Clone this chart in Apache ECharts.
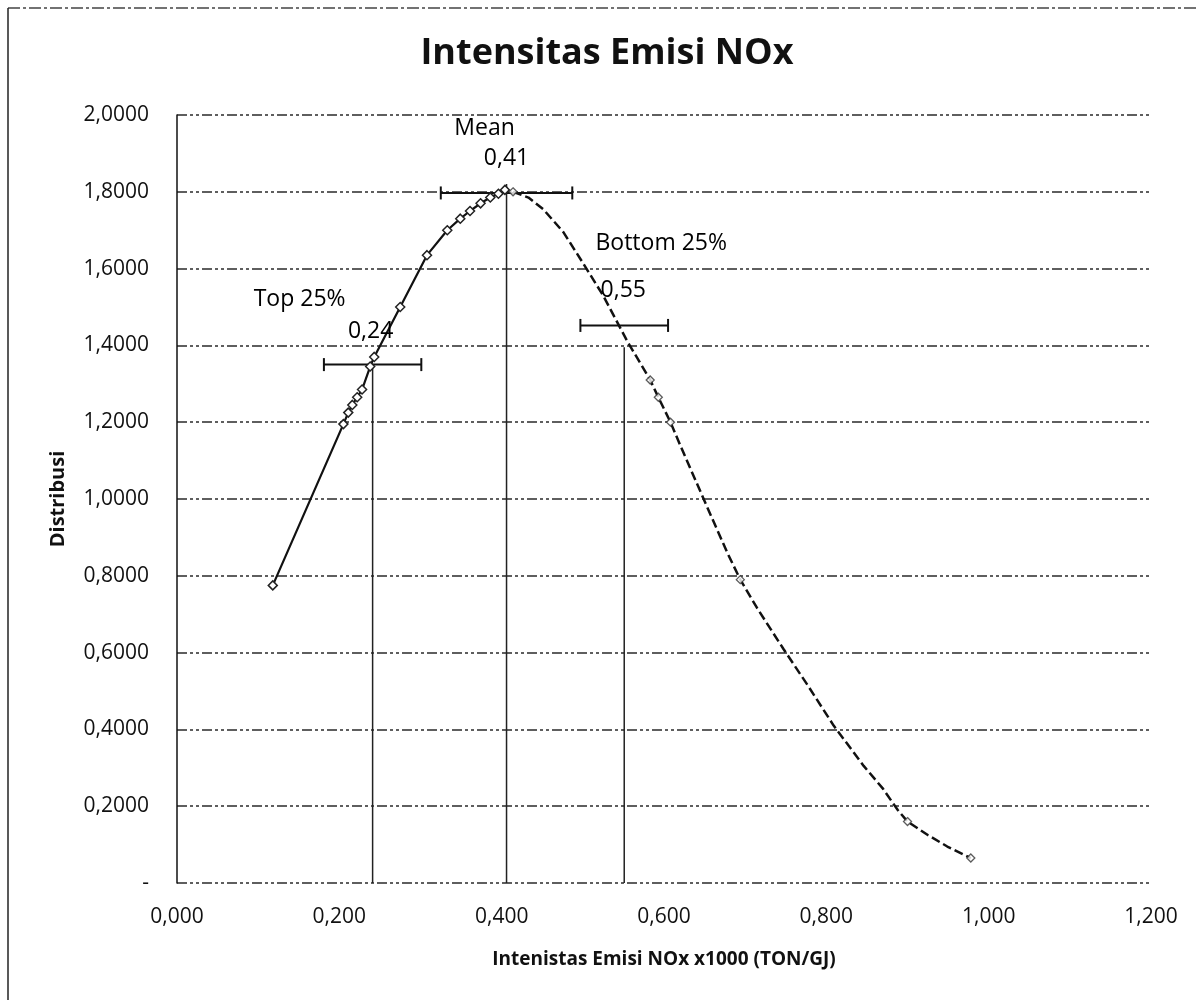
<!DOCTYPE html>
<html>
<head>
<meta charset="utf-8">
<script src="https://cdn.jsdelivr.net/npm/echarts@6/dist/echarts.min.js"></script>
<style>
  html, body { margin: 0; padding: 0; background: #fff; }
  #chart { width: 1199px; height: 1000px; }
</style>
</head>
<body>
<div id="chart"></div>
<script>
// ---- Data ----
const chartTitle = 'Intensitas Emisi NOx';
const xAxisTitle = 'Intenistas Emisi NOx x1000 (TON/GJ)';
const yAxisTitle = 'Distribusi';

// Rising branch (solid line with markers)
const leftX = [0.118, 0.205, 0.211, 0.216, 0.222, 0.228, 0.238, 0.243, 0.275, 0.308, 0.333, 0.349, 0.361, 0.374, 0.386, 0.396, 0.404];
const leftY = [0.775, 1.195, 1.225, 1.245, 1.265, 1.285, 1.345, 1.370, 1.500, 1.635, 1.700, 1.730, 1.750, 1.770, 1.785, 1.795, 1.805];

// Falling branch (dashed line)
const rightX = [0.414, 0.433, 0.451, 0.476, 0.500, 0.525, 0.555, 0.583, 0.593, 0.608, 0.620, 0.653, 0.678, 0.694, 0.715, 0.747, 0.777, 0.809, 0.846, 0.870, 0.888, 0.900, 0.925, 0.949, 0.978];
const rightY = [1.800, 1.785, 1.755, 1.695, 1.615, 1.530, 1.410, 1.310, 1.265, 1.200, 1.140, 0.980, 0.860, 0.790, 0.715, 0.610, 0.515, 0.410, 0.305, 0.245, 0.190, 0.160, 0.125, 0.095, 0.065];

// Visible markers on the falling branch
const rightMarkX = [0.414, 0.583, 0.593, 0.608, 0.694, 0.900, 0.978];
const rightMarkY = [1.800, 1.310, 1.265, 1.200, 0.790, 0.160, 0.065];

// Reference markers: Top 25%, Mean, Bottom 25%
const refNames  = ['Top 25%', 'Mean', 'Bottom 25%'];
const refLabels = ['0,24', '0,41', '0,55'];
const refX      = [0.241, 0.406, 0.551];
const refTopY   = [1.350, 1.820, 1.395];   // top of the vertical drop line
const barY      = [1.350, 1.797, 1.452];   // level of the horizontal error bar
const barHalf   = [0.060, 0.081, 0.054];   // half-width of the error bar

// Tick labels
const xTicks = [0, 0.2, 0.4, 0.6, 0.8, 1.0, 1.2];
const yTicks = [0, 0.2, 0.4, 0.6, 0.8, 1.0, 1.2, 1.4, 1.6, 1.8, 2.0];

// ---- Chart ----
const FONT = '"Open Sans", "Noto Sans", sans-serif';
const zip = (a, b) => a.map((v, i) => [v, b[i]]);

// label placement (styling, not data)
const nameOffsets  = [[-73, -65], [-22, -64], [37, -82]];
const valueOffsets = [[-2, -33], [0, -34], [-1, -35]];

const chart = echarts.init(document.getElementById('chart'), null, { renderer: 'canvas' });

const gridLine = { color: '#2a2a2a', width: 1.5, type: [10, 3, 3, 3, 3, 3] };

const option = {
  backgroundColor: '#ffffff',
  animation: false,
  title: {
    text: chartTitle,
    left: 602, top: 31, textAlign: 'center',
    textStyle: { fontFamily: FONT, fontSize: 36, fontWeight: 'bold', color: '#111' }
  },
  graphic: [
    { type: 'line', shape: { x1: 8, y1: 8, x2: 1199, y2: 8 }, style: { stroke: '#444', lineWidth: 1.5, lineDash: [12, 3, 3, 3] } },
    { type: 'line', shape: { x1: 8, y1: 8, x2: 8, y2: 1000 }, style: { stroke: '#222', lineWidth: 1.5 } }
  ],
  grid: { left: 177, right: 48, top: 115, bottom: 117, containLabel: false },
  xAxis: {
    type: 'value', min: 0, max: 1.2, interval: 0.2,
    name: xAxisTitle, nameLocation: 'middle', nameGap: 67,
    nameTextStyle: { fontFamily: FONT, fontSize: 19, fontWeight: 'bold', color: '#111' },
    axisLine: { show: false },
    axisTick: { show: false },
    splitLine: { show: false },
    axisLabel: {
      margin: 24, fontFamily: FONT, fontSize: 21, color: '#111',
      customValues: xTicks,
      formatter: v => v.toFixed(3).replace('.', ',')
    }
  },
  yAxis: {
    type: 'value', min: 0, max: 2, interval: 0.2,
    name: yAxisTitle, nameLocation: 'middle', nameGap: 109, nameRotate: 90,
    nameTextStyle: { fontFamily: FONT, fontSize: 20, fontWeight: 'bold', color: '#111' },
    axisLine: { show: true, lineStyle: { color: '#111', width: 1.5 } },
    axisTick: { show: false },
    splitLine: { show: true, lineStyle: gridLine },
    axisLabel: {
      margin: 28, fontFamily: FONT, fontSize: 21, color: '#111',
      customValues: yTicks,
      formatter: v => (v === 0 ? '-' : v.toFixed(4).replace('.', ','))
    }
  },
  series: [
    {
      name: 'refLines', type: 'custom', silent: true, z: 2,
      data: refX.map((x, i) => [x, refTopY[i]]),
      renderItem: (params, api) => {
        const p0 = api.coord([api.value(0), 0]);
        const p1 = api.coord([api.value(0), api.value(1)]);
        return { type: 'line', shape: { x1: p0[0], y1: p0[1], x2: p1[0], y2: p1[1] },
                 style: { stroke: '#222', lineWidth: 1.5 } };
      }
    },
    {
      name: 'errorBars', type: 'custom', silent: true, z: 4,
      data: refX.map((x, i) => [x, barY[i], barHalf[i]]),
      renderItem: (params, api) => {
        const y = api.value(1), h = api.value(2), x = api.value(0);
        const a = api.coord([x - h, y]);
        const b = api.coord([x + h, y]);
        const cap = 6.5;
        const st = { stroke: '#111', lineWidth: 2 };
        return { type: 'group', children: [
          { type: 'line', shape: { x1: a[0], y1: a[1], x2: b[0], y2: b[1] }, style: st },
          { type: 'line', shape: { x1: a[0], y1: a[1] - cap, x2: a[0], y2: a[1] + cap }, style: st },
          { type: 'line', shape: { x1: b[0], y1: b[1] - cap, x2: b[0], y2: b[1] + cap }, style: st }
        ]};
      }
    },
    {
      name: 'rising', type: 'line', z: 5,
      data: zip(leftX, leftY),
      symbol: 'diamond', symbolSize: 9, showSymbol: true,
      lineStyle: { color: '#111', width: 2.2 },
      itemStyle: { color: '#ffffff', borderColor: '#222', borderWidth: 1.5 }
    },
    {
      name: 'falling', type: 'line', z: 5,
      data: zip(rightX, rightY),
      showSymbol: false, symbol: 'none',
      lineStyle: { color: '#111', width: 2.5, type: [9, 4] }
    },
    {
      name: 'fallingMarkers', type: 'scatter', z: 6,
      data: zip(rightMarkX, rightMarkY),
      symbol: 'diamond', symbolSize: 8,
      itemStyle: { color: '#ffffff', borderColor: '#333', borderWidth: 1.3 }
    },
    {
      name: 'refAnnotations', type: 'custom', silent: true, z: 7,
      data: refX.map((x, i) => [x, barY[i]]),
      renderItem: (params, api) => {
        const i = params.dataIndex;
        const p = api.coord([api.value(0), api.value(1)]);
        const font = '23px ' + FONT;
        return { type: 'group', children: [
          { type: 'text', x: p[0] + nameOffsets[i][0], y: p[1] + nameOffsets[i][1],
            style: { text: refNames[i], font: font, fill: '#000', align: 'center', verticalAlign: 'middle' } },
          { type: 'text', x: p[0] + valueOffsets[i][0], y: p[1] + valueOffsets[i][1],
            style: { text: refLabels[i], font: font, fill: '#000', align: 'center', verticalAlign: 'middle' } }
        ]};
      }
    }
  ]
};

chart.setOption(option);
</script>
</body>
</html>
